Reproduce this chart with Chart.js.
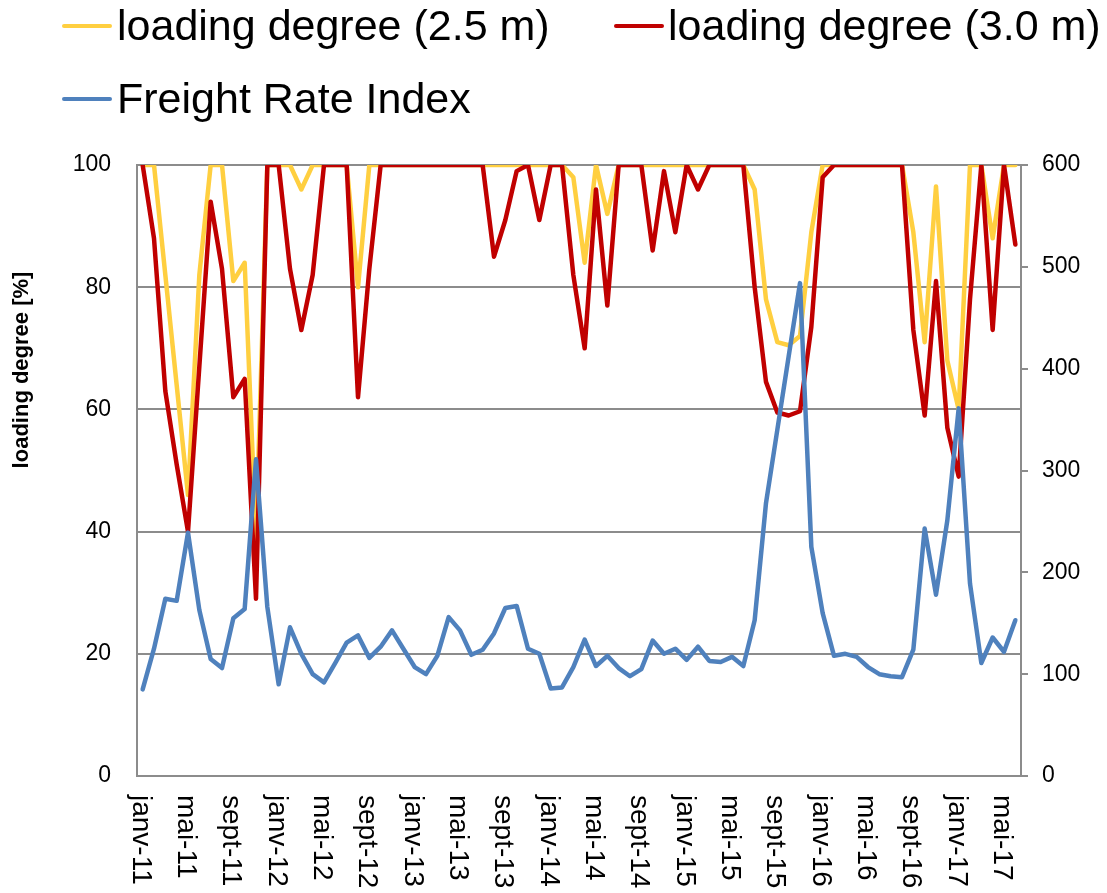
<!DOCTYPE html>
<html>
<head>
<meta charset="utf-8">
<script src="https://cdn.jsdelivr.net/npm/chart.js@4.4.1/dist/chart.umd.min.js"></script>
<style>
  html, body { margin: 0; padding: 0; background: #fff; }
  #wrap { position: relative; width: 1107px; height: 893px; overflow: hidden; }
  #chart { position: absolute; left: 0; top: 0; }
  .lg-line { position: absolute; width: 50px; height: 4px; border-radius: 2px; }
  .lg-text { position: absolute; font-family: "Liberation Sans", Arial, sans-serif; font-size: 43px; line-height: 43px; color: #000; white-space: nowrap; }
</style>
</head>
<body>
<div id="wrap">
  <canvas id="chart" width="1107" height="893"></canvas>
  <div class="lg-line" style="left:62px;top:24px;background:#FFCF40"></div>
  <div class="lg-text" style="left:117px;top:4px">loading degree (2.5 m)</div>
  <div class="lg-line" style="left:614px;top:24px;background:#C00000"></div>
  <div class="lg-text" style="left:668px;top:4px">loading degree (3.0 m)</div>
  <div class="lg-line" style="left:62px;top:97px;background:#4F81BD"></div>
  <div class="lg-text" style="left:117px;top:77px">Freight Rate Index</div>
</div>
<script>
// monthly categories, janv-11 .. juin-17
const months = ['janv', 'févr', 'mars', 'avr', 'mai', 'juin', 'juil', 'août', 'sept', 'oct', 'nov', 'déc'];
const years = ['11', '12', '13', '14', '15', '16', '17'];
const categories = [];
years.forEach(y => months.forEach(m => categories.push(m + '-' + y)));
categories.splice(78);

// loading degree [%], 2.5 m draught
const load25 = [
  100, 100, 82, 64, 46, 82, 100, 100, 81, 84, 39, 100,
  100, 100, 96, 100, 100, 100, 100, 80, 100, 100, 100, 100,
  100, 100, 100, 100, 100, 100, 100, 100, 100, 100, 100, 100,
  100, 100, 98, 84, 100, 92, 100, 100, 100, 100, 100, 100,
  100, 100, 100, 100, 100, 100, 96, 78, 71, 70.5, 72, 89,
  100, 100, 100, 100, 100, 100, 100, 100, 89, 71, 96.5, 68,
  60, 100, 100, 88, 100, 100
];

// loading degree [%], 3.0 m draught
const load30 = [
  100, 88, 63, 51, 40, 67, 94, 83, 62, 65, 29, 100,
  100, 83, 73, 82, 100, 100, 100, 62, 83, 100, 100, 100,
  100, 100, 100, 100, 100, 100, 100, 85, 91, 99, 100, 91,
  100, 100, 82, 70, 96, 77, 100, 100, 100, 86, 99, 89,
  100, 96, 100, 100, 100, 100, 80, 64.5, 59.5, 59, 59.7, 73.5,
  98, 100, 100, 100, 100, 100, 100, 100, 73, 59, 81, 57,
  49, 78, 100, 73, 100, 87
];

// freight rate index (right axis)
const freight = [
  85, 125, 174, 172, 239, 163, 115, 106, 155, 164, 311, 166,
  90, 146, 120, 100, 92, 111, 131, 138, 116, 127, 143, 125,
  107, 100, 118, 156, 143, 119, 124, 140, 165, 167, 125, 120,
  86, 87, 107, 134, 108, 118, 106, 98, 105, 133, 120, 125,
  114, 127, 113, 112, 117, 108, 153, 268, 340, 412, 484, 225,
  160, 118, 120, 117, 107, 100, 98, 97, 124, 243, 178, 251,
  361, 189, 111, 136, 122, 153
];

const leftTicks = { min: 0, max: 100, step: 20 };
const rightTicks = { min: 0, max: 600, step: 100 };

const gridGrey = '#8c8c8c';
const fontFamily = '"Liberation Sans", Arial, sans-serif';

// x labels read top-to-bottom (every 4th month) and the left axis title
const labelPlugin = {
  id: 'rotatedLabels',
  afterDraw(chart) {
    const ctx = chart.ctx;
    const xs = chart.scales.x;
    ctx.save();
    ctx.fillStyle = '#000';
    ctx.font = '28px ' + fontFamily;
    ctx.textAlign = 'left';
    ctx.textBaseline = 'alphabetic';
    categories.forEach((lab, i) => {
      if (i % 4) return;
      ctx.save();
      ctx.translate(xs.getPixelForValue(i), xs.top + 19);
      ctx.rotate(Math.PI / 2);
      ctx.fillText(lab, 0, 10);
      ctx.restore();
    });
    ctx.font = 'bold 22px ' + fontFamily;
    ctx.textAlign = 'center';
    ctx.translate(28, 370);
    ctx.rotate(-Math.PI / 2);
    ctx.fillText('loading degree [%]', 0, 0);
    ctx.restore();
  }
};

new Chart(document.getElementById('chart'), {
  type: 'line',
  data: {
    labels: categories,
    datasets: [
      { label: 'loading degree (2.5 m)', data: load25, borderColor: '#FFCF40', yAxisID: 'y', order: 3 },
      { label: 'loading degree (3.0 m)', data: load30, borderColor: '#C00000', yAxisID: 'y', order: 2 },
      { label: 'Freight Rate Index', data: freight, borderColor: '#4F81BD', yAxisID: 'y1', order: 1 }
    ]
  },
  options: {
    responsive: false,
    animation: false,
    devicePixelRatio: 1,
    layout: { padding: { top: 165, left: 0, right: 0, bottom: 0 } },
    elements: {
      line: { borderWidth: 4.5, tension: 0, borderJoinStyle: 'round', borderCapStyle: 'round', fill: false },
      point: { radius: 0 }
    },
    plugins: {
      legend: { display: false },
      tooltip: { enabled: false }
    },
    scales: {
      x: {
        offset: true,
        grid: { display: false },
        border: { display: true, color: gridGrey, width: 2 },
        ticks: { display: false },
        afterFit: s => { s.height = 117; }
      },
      y: {
        position: 'left',
        min: leftTicks.min,
        max: leftTicks.max,
        ticks: { stepSize: leftTicks.step, padding: 26, color: '#000', font: { family: fontFamily, size: 23 } },
        grid: { color: gridGrey, lineWidth: 2, drawTicks: false },
        border: { color: gridGrey, width: 2 },
        afterFit: s => { s.width = 137; }
      },
      y1: {
        position: 'right',
        min: rightTicks.min,
        max: rightTicks.max,
        ticks: { stepSize: rightTicks.step, padding: 14, color: '#000', font: { family: fontFamily, size: 23 } },
        grid: { drawOnChartArea: false, color: gridGrey, lineWidth: 2, tickLength: 7 },
        border: { color: gridGrey, width: 2 },
        afterFit: s => { s.width = 86; }
      }
    }
  },
  plugins: [labelPlugin]
});
</script>
</body>
</html>
